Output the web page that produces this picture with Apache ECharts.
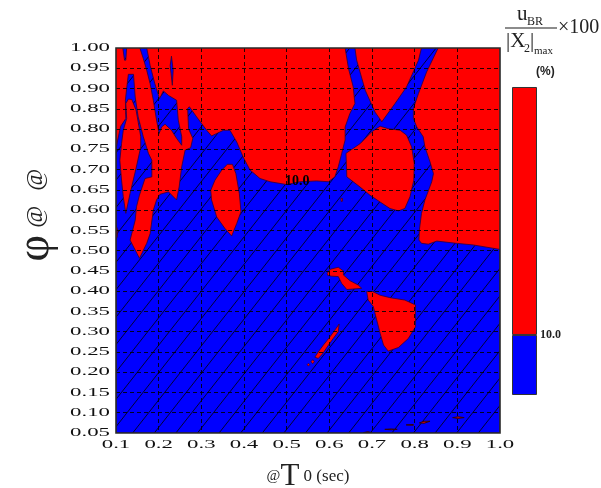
<!DOCTYPE html>
<html>
<head>
<meta charset="utf-8">
<style>html,body{margin:0;padding:0;background:#fff}#c{width:601px;height:488px}</style>
<script src="https://cdn.jsdelivr.net/npm/echarts@6/dist/echarts.min.js"></script>
</head>
<body>
<div id="c"></div>
<script>
// Tick labels
const periodTicks = ['0.1','0.2','0.3','0.4','0.5','0.6','0.7','0.8','0.9','1.0'];
const dampingTicks = ['0.05','0.10','0.15','0.20','0.25','0.30','0.35','0.40','0.45','0.50','0.55','0.60','0.65','0.70','0.75','0.80','0.85','0.90','0.95','1.00'];
const contourLevelLabel = [0.525, 0.668, '10.0'];

// Colour bar (level split at 10.0)
const barBelow = [10];
const barAbove = [41.3];

// Region above 10 % (whole domain, overlaid by the region below 10 %)
const aboveBase = [[0.1,0.05],[1,0.05],[1,1],[0.1,1]];

// Regions below 10 %: contour vertices as [T0, damping]
const belowMain = [[0.1,0.05],[1,0.05],[1,0.503],[0.9375,0.514],[0.898,0.518],[0.852,0.5235],[0.832,0.516],[0.816,0.518],[0.810,0.526],[0.811,0.551],[0.816,0.592],[0.824,0.625],[0.840,0.670],[0.844,0.690],[0.836,0.719],[0.824,0.756],[0.820,0.781],[0.805,0.805],[0.797,0.826],[0.797,0.851],[0.809,0.888],[0.828,0.941],[0.855,1],[0.816,1],[0.809,0.970],[0.781,0.904],[0.754,0.863],[0.723,0.818],[0.707,0.842],[0.684,0.896],[0.664,0.970],[0.660,1],[0.637,1],[0.645,0.949],[0.656,0.904],[0.660,0.863],[0.648,0.838],[0.637,0.805],[0.637,0.773],[0.629,0.740],[0.621,0.707],[0.613,0.682],[0.598,0.670],[0.570,0.672],[0.531,0.670],[0.5,0.663],[0.461,0.670],[0.4375,0.678],[0.414,0.699],[0.398,0.731],[0.383,0.768],[0.367,0.797],[0.352,0.797],[0.324,0.783],[0.3125,0.797],[0.289,0.830],[0.272,0.855],[0.268,0.851],[0.27,0.801],[0.28,0.777],[0.275,0.754],[0.262,0.748],[0.254,0.707],[0.248,0.657],[0.242,0.625],[0.223,0.645],[0.203,0.639],[0.195,0.625],[0.1875,0.600],[0.18,0.542],[0.172,0.518],[0.155,0.481],[0.133,0.526],[0.145,0.575],[0.148,0.608],[0.155,0.637],[0.168,0.678],[0.184,0.682],[0.184,0.723],[0.176,0.740],[0.164,0.781],[0.152,0.830],[0.145,0.879],[0.141,0.935],[0.129,0.935],[0.125,0.900],[0.122,0.871],[0.123,0.826],[0.111,0.807],[0.104,0.773],[0.1,0.748]];
const belowTopTip = [[0.116,1],[0.125,1],[0.123,0.970],[0.12,0.970]];
const belowSpindle = [[0.230,0.980],[0.234,0.945],[0.232,0.908],[0.229,0.937],[0.227,0.957]];
const belowRidge = [[0.156,1],[0.172,1],[0.18,0.957],[0.191,0.912],[0.202,0.875],[0.211,0.894],[0.223,0.883],[0.242,0.871],[0.246,0.822],[0.254,0.781],[0.254,0.760],[0.242,0.777],[0.230,0.797],[0.215,0.812],[0.207,0.805],[0.201,0.789],[0.195,0.822],[0.1875,0.871],[0.18,0.912],[0.172,0.945],[0.164,0.974]];

// Islands above 10 % inside the region below
const aboveLeftIsland = [[0.129,0.874],[0.137,0.873],[0.147,0.847],[0.158,0.781],[0.158,0.756],[0.147,0.703],[0.133,0.641],[0.123,0.592],[0.117,0.633],[0.113,0.674],[0.109,0.723],[0.113,0.764],[0.117,0.797],[0.125,0.826],[0.123,0.863]];
const aboveEdgeSliver = [[0.1,0.563],[0.104,0.551],[0.103,0.534],[0.1,0.528]];
const aboveMidIsland = [[0.361,0.713],[0.373,0.713],[0.381,0.690],[0.389,0.641],[0.393,0.596],[0.383,0.567],[0.371,0.536],[0.355,0.555],[0.336,0.583],[0.324,0.625],[0.322,0.649],[0.332,0.674],[0.348,0.699]];
const aboveCentreIsland = [[0.719,0.807],[0.738,0.801],[0.766,0.797],[0.781,0.785],[0.793,0.756],[0.799,0.715],[0.798,0.674],[0.789,0.633],[0.777,0.604],[0.762,0.598],[0.742,0.604],[0.719,0.620],[0.695,0.637],[0.672,0.657],[0.641,0.682],[0.639,0.740],[0.672,0.764],[0.699,0.793]];
const aboveDot = [[0.627,0.629],[0.631,0.629],[0.631,0.622],[0.628,0.621]];
const aboveBlobA = [[0.595,0.444],[0.602,0.454],[0.621,0.459],[0.633,0.450],[0.633,0.440],[0.648,0.426],[0.668,0.415],[0.676,0.407],[0.641,0.404],[0.629,0.419],[0.621,0.436],[0.605,0.437],[0.596,0.439]];
const aboveBlobB = [[0.6875,0.399],[0.702,0.399],[0.719,0.390],[0.742,0.384],[0.777,0.378],[0.802,0.366],[0.802,0.312],[0.785,0.283],[0.762,0.261],[0.738,0.252],[0.727,0.267],[0.719,0.296],[0.711,0.329],[0.703,0.362],[0.691,0.378]];
const aboveStreak = [[0.623,0.319],[0.621,0.300],[0.609,0.283],[0.598,0.267],[0.584,0.245],[0.574,0.234],[0.566,0.237],[0.574,0.250],[0.586,0.267],[0.602,0.288],[0.613,0.304]];
const aboveSpeckA = [[0.561,0.231],[0.565,0.226],[0.561,0.221],[0.557,0.226]];
const aboveSpeckB = [[0.551,0.222],[0.554,0.2185],[0.551,0.215],[0.548,0.2185]];
const aboveSliverA = [[0.811,0.075],[0.822,0.079],[0.836,0.079],[0.822,0.074]];
const aboveSliverB = [[0.889,0.088],[0.902,0.090],[0.916,0.088],[0.902,0.086]];
const aboveSliverC = [[0.78,0.070],[0.797,0.071],[0.797,0.069]];
const aboveSliverD = [[0.73,0.059],[0.745,0.060],[0.759,0.059],[0.745,0.058]];
const aboveSliverE = [[0.68,0.051],[0.69,0.053],[0.699,0.051]];

const RED = '#ff0000', BLUE = '#0000ff', EDGE = '#30003a';

const regions = [
  {pts: aboveBase, kind: 'base'},
  {pts: belowMain, kind: 'below'},
  {pts: belowTopTip, kind: 'below'},
  {pts: belowSpindle, kind: 'below'},
  {pts: belowRidge, kind: 'below'}
].concat([aboveLeftIsland, aboveEdgeSliver, aboveMidIsland, aboveCentreIsland, aboveDot, aboveBlobA, aboveBlobB,
  aboveStreak, aboveSpeckA, aboveSpeckB].map(p => ({pts: p, kind: 'above'})))
 .concat([aboveSliverA, aboveSliverB, aboveSliverC, aboveSliverD, aboveSliverE].map(p => ({pts: p, kind: 'sliver'})));

// Hatched fill of the region below the level
const tile = document.createElement('canvas');
tile.width = 108; tile.height = 137;
(function () {
  const g = tile.getContext('2d');
  g.fillStyle = BLUE; g.fillRect(0, 0, 108, 137);
  g.strokeStyle = '#000'; g.lineWidth = 0.8;
  for (let i = -6; i <= 6; i++) {
    const x0 = i * 21.6 - 1.2;
    g.beginPath(); g.moveTo(x0, 137); g.lineTo(x0 + 108, 0); g.stroke();
  }
})();

function renderRegion(params, api) {
  const r = regions[api.value(0)];
  const pts = r.pts.map(p => api.coord(p));
  const styles = {
    base: {fill: RED},
    below: {fill: {image: tile, repeat: 'repeat'}, stroke: EDGE, lineWidth: 0.8},
    above: {fill: RED, stroke: EDGE, lineWidth: 0.8},
    sliver: {fill: RED, stroke: '#300010', lineWidth: 1}
  };
  return {type: 'polygon', shape: {points: pts}, style: styles[r.kind]};
}
function renderFrame(params, api) {
  const a = api.coord([0.1, 0.05]), b = api.coord([1, 1]);
  return {type: 'rect', shape: {x: a[0], y: b[1], width: b[0] - a[0], height: a[1] - b[1]},
    style: {fill: 'none', stroke: '#2a2a2a', lineWidth: 1.6}};
}

const tickFont = {fontFamily: 'Liberation Serif', fontSize: 12, fontWeight: 'normal', color: '#111'};
const gridDash = {show: true, showMinLine: false, showMaxLine: false, lineStyle: {color: 'rgba(0,0,0,0.85)', type: [4, 3], width: 1}};
const serif = 'Liberation Serif';
// y is the text baseline
const t = (text, x, y, size, extra) => ({type: 'text', x, y: y + 0.216 * size, style: Object.assign(
  {text, fontFamily: serif, fontSize: size, fill: '#222', verticalAlign: 'bottom'}, extra || {})});

const chart = echarts.init(document.getElementById('c'), null, {renderer: 'canvas'});
chart.setOption({
  animation: false,
  backgroundColor: '#fff',
  grid: [
    {left: 116, top: 48, width: 384, height: 385, outerBoundsMode: 'none'},
    {left: 512, top: 87, width: 25, height: 308, outerBoundsMode: 'none'}
  ],
  xAxis: [
    {type: 'value', gridIndex: 0, min: 0.1, max: 1.0, interval: 0.1, z: 3,
     axisLine: {show: false}, axisTick: {show: false}, splitLine: gridDash,
     axisLabel: Object.assign({margin: 6, hideOverlap: false, formatter: v => periodTicks[Math.round((v - 0.1) * 10)]}, tickFont),
     name: '{a|@}{b|T}{c| 0 (sec)}', nameLocation: 'middle', nameGap: 28,
     nameTextStyle: {rich: {
       a: {fontFamily: serif, fontSize: 15, color: '#222'},
       b: {fontFamily: serif, fontSize: 31, color: '#222'},
       c: {fontFamily: serif, fontSize: 17, color: '#222'}
     }}},
    {type: 'category', gridIndex: 1, data: ['bar'], show: false}
  ],
  yAxis: [
    {type: 'value', gridIndex: 0, min: 0.05, max: 1.0, interval: 0.05, z: 3,
     axisLine: {show: false}, axisTick: {show: false}, splitLine: gridDash,
     axisLabel: Object.assign({margin: 6, hideOverlap: false, formatter: v => dampingTicks[Math.round((v - 0.05) * 20)]}, tickFont),
     name: '{a|φ}{c|@}{b|@}', nameLocation: 'middle', nameGap: 57, nameRotate: 90,
     nameTextStyle: {rich: {
       a: {fontFamily: serif, fontSize: 46, color: '#222', verticalAlign: 'middle', padding: [0, 0, 0, 51]},
       b: {fontFamily: serif, fontSize: 24, color: '#222', verticalAlign: 'middle', padding: [0, 0, 0, 15]},
       c: {fontFamily: serif, fontSize: 24, color: '#222', verticalAlign: 'middle', padding: [0, 0, 0, 7]}
     }}},
    {type: 'value', gridIndex: 1, min: 0, max: 51.3, position: 'right', splitLine: {show: false},
     axisLine: {show: false}, axisTick: {show: false},
     axisLabel: {customValues: [10], formatter: v => v.toFixed(1), margin: 3, fontFamily: serif, fontSize: 12, fontWeight: 'bold', color: '#222'}}
  ],
  series: [
    {type: 'custom', xAxisIndex: 0, yAxisIndex: 0, silent: true, clip: true, z: 2,
     renderItem: renderRegion, data: regions.map((r, i) => [i]), encode: {x: 0}},
    {type: 'custom', xAxisIndex: 0, yAxisIndex: 0, silent: true, z: 4, renderItem: renderFrame, data: [[0]], encode: {x: 0}},
    {type: 'scatter', xAxisIndex: 0, yAxisIndex: 0, silent: true, z: 5, symbolSize: 1, itemStyle: {color: '#000'},
     data: [contourLevelLabel],
     label: {show: true, position: 'top', distance: -6, formatter: p => p.value[2], fontFamily: serif, fontSize: 14, fontWeight: 'bold', color: '#000', textBorderWidth: 0, opacity: 1}},
    {type: 'bar', xAxisIndex: 1, yAxisIndex: 1, stack: 'cb', barWidth: '100%', data: barBelow, itemStyle: {color: BLUE, borderColor: '#333', borderWidth: 1}},
    {type: 'bar', xAxisIndex: 1, yAxisIndex: 1, stack: 'cb', barWidth: '100%', data: barAbove, itemStyle: {color: RED, borderColor: '#333', borderWidth: 1}}
  ],
  graphic: [
    t('u', 517, 20, 21),
    t('BR', 527, 25, 12),
    {type: 'line', shape: {x1: 505, y1: 28, x2: 557, y2: 28}, style: {stroke: '#666', lineWidth: 1.5}},
    t('|X', 506, 47, 21),
    t('2', 524, 52, 12),
    t('|', 530, 47, 21),
    t('max', 534, 54, 11),
    t('×100', 558, 33, 20),
    t('(%)', 536, 75, 12, {fontFamily: 'Liberation Sans', fontWeight: 'bold'})
  ]
});

// Tick labels in the reference are stretched horizontally
const tickSet = new Set(periodTicks.concat(dampingTicks));
function stretch(el) {
  if (el.isGroup) { el.eachChild(stretch); return; }
  if (el.style && tickSet.has(el.style.text)) { el.scaleX = 1.9; el.markRedraw(); }
}
chart.getZr().storage.getRoots().forEach(stretch);
chart.getZr().refresh();
</script>
</body>
</html>
